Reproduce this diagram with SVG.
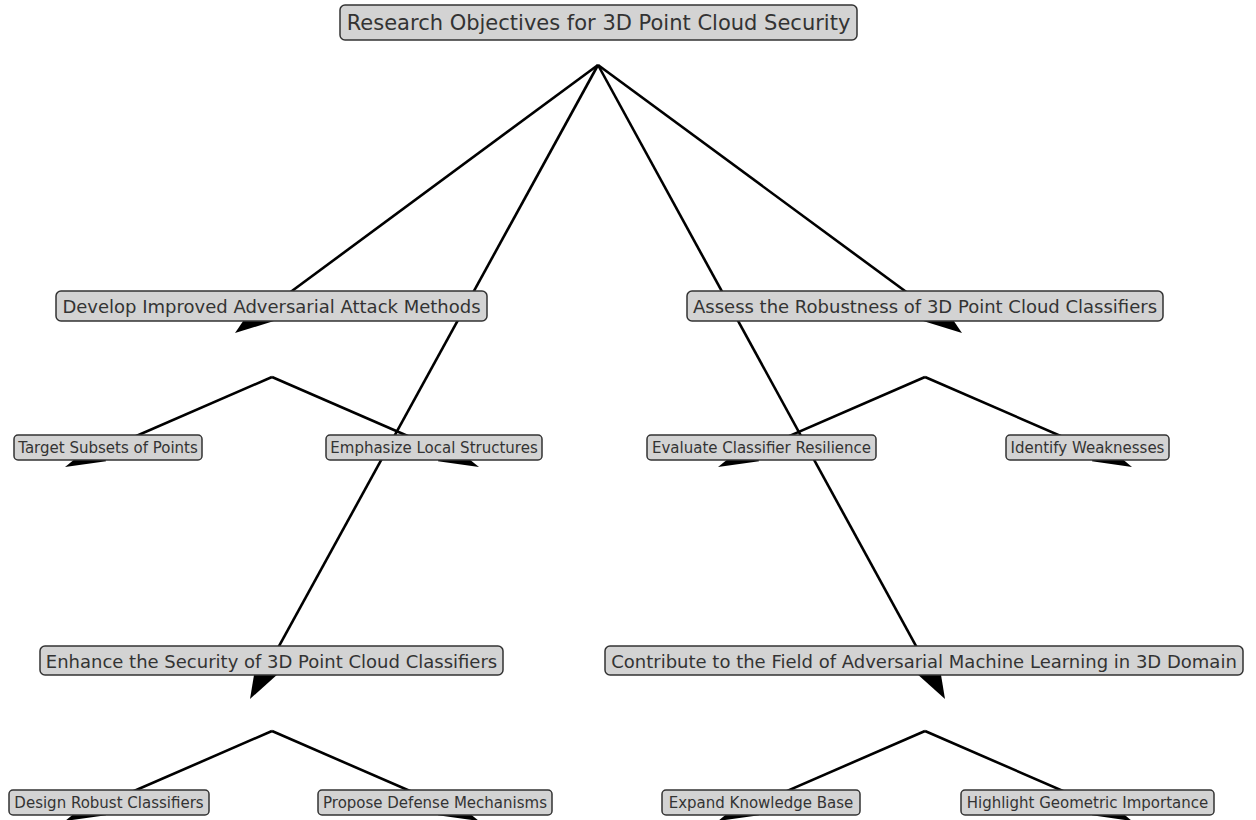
<svg xmlns="http://www.w3.org/2000/svg" width="1256" height="820" viewBox="0 0 1256 820">
<style>
.bg{fill:#ffffff}
.edge{stroke:#000;stroke-width:2.6;fill:none}
.head{fill:#000;stroke:none}
.box{fill:#d3d3d3;stroke:#333;stroke-width:1.5}
.t{font-family:"DejaVu Sans","Liberation Sans",sans-serif;fill:#333;text-anchor:middle;dominant-baseline:central}
.t0{font-size:21px}
.t1{font-size:18px}
.t2{font-size:15px}
</style>
<rect class="bg" x="0" y="0" width="1256" height="820"/>
<g id="connectors">
  <line class="edge" x1="598" y1="65" x2="267.18" y2="309.24"/>
  <polygon class="head" points="235,333 258.86,297.98 275.5,320.5"/>
  <line class="edge" x1="598" y1="65" x2="929.79" y2="309.28"/>
  <polygon class="head" points="962,333 921.49,320.55 938.09,298.01"/>
  <line class="edge" x1="598" y1="65" x2="269.25" y2="663.93"/>
  <polygon class="head" points="250,699 256.98,657.19 281.52,670.67"/>
  <line class="edge" x1="598" y1="65" x2="925.8" y2="663.91"/>
  <polygon class="head" points="945,699 913.52,670.63 938.08,657.19"/>

  <line class="edge" x1="272" y1="377" x2="101.68" y2="451.05"/>
  <polygon class="head" points="65,467 97.29,440.96 106.07,461.14"/>
  <line class="edge" x1="272" y1="377" x2="442.32" y2="451.05"/>
  <polygon class="head" points="479,467 437.93,461.14 446.71,440.96"/>
  <line class="edge" x1="925" y1="377" x2="754.68" y2="451.05"/>
  <polygon class="head" points="718,467 750.29,440.96 759.07,461.14"/>
  <line class="edge" x1="925" y1="377" x2="1095.32" y2="451.05"/>
  <polygon class="head" points="1132,467 1091.93,461.14 1100.71,440.96"/>

  <line class="edge" x1="272" y1="731" x2="101.68" y2="805.05"/>
  <polygon class="head" points="65,821 97.29,794.96 106.07,815.14"/>
  <line class="edge" x1="272" y1="731" x2="442.32" y2="805.05"/>
  <polygon class="head" points="479,821 437.93,815.14 446.71,794.96"/>
  <line class="edge" x1="925" y1="731" x2="754.68" y2="805.05"/>
  <polygon class="head" points="718,821 750.29,794.96 759.07,815.14"/>
  <line class="edge" x1="925" y1="731" x2="1095.32" y2="805.05"/>
  <polygon class="head" points="1132,821 1091.93,815.14 1100.71,794.96"/>
</g>
<g id="root">
  <rect class="box" x="340" y="5" width="517" height="35" rx="5"/>
  <text class="t t0" x="598.5" y="23">Research Objectives for 3D Point Cloud Security</text>
</g>
<g id="develop">
  <rect class="box" x="56" y="291" width="431" height="30" rx="5"/>
  <text class="t t1" x="271.5" y="306.5">Develop Improved Adversarial Attack Methods</text>
</g>
<g id="assess">
  <rect class="box" x="687" y="291" width="476" height="30" rx="5"/>
  <text class="t t1" x="925" y="306.5">Assess the Robustness of 3D Point Cloud Classifiers</text>
</g>
<g id="target">
  <rect class="box" x="14" y="435" width="188" height="25" rx="4"/>
  <text class="t t2" x="108" y="448">Target Subsets of Points</text>
</g>
<g id="emphasize">
  <rect class="box" x="326" y="435" width="216" height="25" rx="4"/>
  <text class="t t2" x="434" y="448">Emphasize Local Structures</text>
</g>
<g id="evaluate">
  <rect class="box" x="647" y="435" width="229" height="25" rx="4"/>
  <text class="t t2" x="761.5" y="448">Evaluate Classifier Resilience</text>
</g>
<g id="identify">
  <rect class="box" x="1006" y="435" width="163" height="25" rx="4"/>
  <text class="t t2" x="1087.5" y="448">Identify Weaknesses</text>
</g>
<g id="enhance">
  <rect class="box" x="40" y="646" width="463" height="29" rx="5"/>
  <text class="t t1" x="271.5" y="661">Enhance the Security of 3D Point Cloud Classifiers</text>
</g>
<g id="contribute">
  <rect class="box" x="605" y="646" width="638" height="29" rx="5"/>
  <text class="t t1" x="924" y="661">Contribute to the Field of Adversarial Machine Learning in 3D Domain</text>
</g>
<g id="design">
  <rect class="box" x="9" y="790" width="200" height="25" rx="4"/>
  <text class="t t2" x="109" y="803">Design Robust Classifiers</text>
</g>
<g id="propose">
  <rect class="box" x="318" y="790" width="234" height="25" rx="4"/>
  <text class="t t2" x="435" y="803">Propose Defense Mechanisms</text>
</g>
<g id="expand">
  <rect class="box" x="662" y="790" width="198" height="25" rx="4"/>
  <text class="t t2" x="761" y="803">Expand Knowledge Base</text>
</g>
<g id="highlight">
  <rect class="box" x="961" y="790" width="253" height="25" rx="4"/>
  <text class="t t2" x="1087.5" y="803">Highlight Geometric Importance</text>
</g>
</svg>
